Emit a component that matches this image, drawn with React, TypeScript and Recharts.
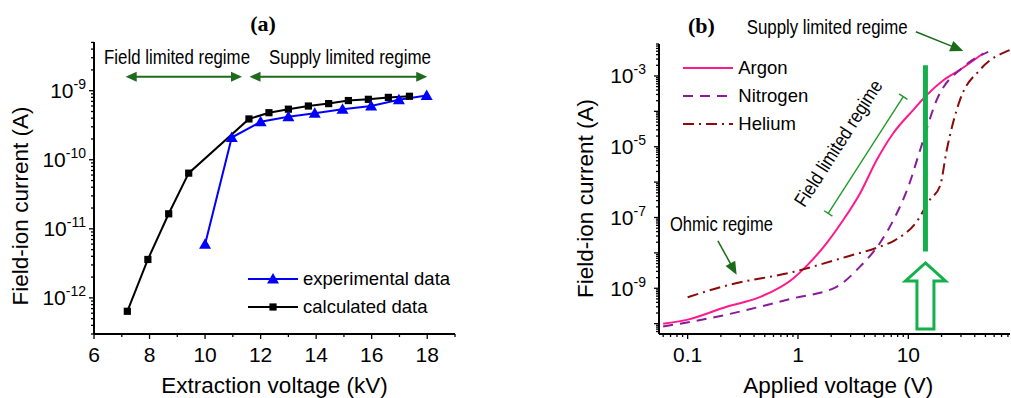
import React from "react";
import { LineChart, Line, XAxis, YAxis, ReferenceLine, ReferenceDot, Legend } from "recharts";

const SANS = "'Liberation Sans', Arial, Helvetica, sans-serif";
const SERIF = "'Liberation Serif', 'Times New Roman', serif";

// ---- panel (a): current vs extraction voltage ----
const calcKv = [7.2, 7.94, 8.69, 9.41, 11.58, 12.3, 13.0, 13.72, 14.45, 15.16, 15.88, 16.6, 17.36];
const calcCurrent = [6.4e-13, 3.6e-12, 1.65e-11, 6.4e-11, 3.9e-10, 4.8e-10, 5.4e-10, 6.0e-10, 6.5e-10, 7.2e-10, 7.5e-10, 8.0e-10, 8.3e-10];
const expKv = [10.0, 10.96, 12.0, 13.0, 13.95, 14.95, 15.98, 16.98, 17.98];
const expCurrent = [6.0e-12, 2.1e-10, 3.55e-10, 4.2e-10, 4.7e-10, 5.4e-10, 6.0e-10, 7.4e-10, 8.5e-10];
const kvTicks = [6, 7, 8, 9, 10, 11, 12, 13, 14, 15, 16, 17, 18, 19];
const kvLabels = [6, 8, 10, 12, 14, 16, 18];
const currentLabelsA = [1e-12, 1e-11, 1e-10, 1e-9];
const legendOrderA = ["experimental data", "calculated data"];

// regime arrows in (a)
const regimeArrowY = 1.59e-9;
const fieldRegimeKv = [7.14, 11.33];
const supplyRegimeKv = [11.6, 18.0];

// ---- panel (b): current vs applied voltage per gas ----
const argonV = [0.06, 0.1, 0.226, 0.45, 0.905, 1.2, 1.82, 2.57, 3.65, 5.17, 7.3, 11.1, 14.7, 20.8, 29.4, 47.9];
const argonI = [1.0e-10, 1.3e-10, 3.0e-10, 5.6e-10, 1.9e-9, 4.3e-9, 1.9e-8, 8.5e-8, 4.8e-7, 4.2e-6, 2.4e-5, 1.1e-4, 2.9e-4, 7.6e-4, 1.5e-3, 4.4e-3];
const nitrogenV = [0.06, 0.226, 0.45, 0.905, 2.24, 3.65, 5.53, 7.85, 10, 12.8, 18.1, 31.6, 53];
const nitrogenI = [8.3e-11, 1.8e-10, 3.0e-10, 5.2e-10, 1.1e-9, 4.1e-9, 1.9e-8, 1.3e-7, 7.4e-7, 8.1e-6, 2.1e-4, 1.8e-3, 4.8e-3];
const heliumV = [0.1, 0.226, 0.905, 2.76, 5.53, 7.6, 11.9, 15.7, 19.4, 22.3, 29.4, 44.7, 83];
const heliumI = [5.6e-10, 1.2e-9, 2.9e-9, 7.8e-9, 1.5e-8, 2.3e-8, 7.6e-8, 3.2e-7, 7.8e-7, 8.1e-6, 2.1e-4, 1.5e-3, 5.4e-3];
const voltLabels = [0.1, 1, 10];
const currentLabelsB = [1e-9, 1e-7, 1e-5, 1e-3];
const legendOrderB = ["Argon", "Nitrogen", "Helium"];

// annotations in (b)
const markerV = 14.3;
const markerBarI = [2.0e-3, 1.1e-8];
const markerArrowTipI = 5.2e-9;
const supplyArrow = [{ x: 11.7, y: 1.78e-2 }, { x: 31.5, y: 5.1e-3 }];
const ohmicArrow = [{ x: 0.188, y: 2.2e-8 }, { x: 0.278, y: 2.4e-9 }];
const fieldBracket = [{ x: 9.0, y: 2.6e-4 }, { x: 1.88, y: 1.3e-7 }];

const zip = (xs: number[], ys: number[]) => xs.map((v, k) => ({ v, i: ys[k] }));
const calcData = zip(calcKv, calcCurrent);
const expData = zip(expKv, expCurrent);
const argonData = zip(argonV, argonI);
const nitrogenData = zip(nitrogenV, nitrogenI);
const heliumData = zip(heliumV, heliumI);

const logTicks = (lo: number, hi: number) => {
  const out: number[] = [];
  for (let e = Math.floor(Math.log10(lo)); e <= Math.ceil(Math.log10(hi)); e++) {
    for (let m = 1; m <= 9; m++) {
      const v = Number((m * Math.pow(10, e)).toPrecision(6));
      if (v >= lo && v <= hi) out.push(v);
    }
  }
  return out;
};
const isDecade = (v: number) => Math.abs(Math.log10(v) - Math.round(Math.log10(v))) < 1e-6;
const sameLog = (a: number, b: number) => Math.abs(Math.log10(a) - Math.log10(b)) < 1e-6;
const ordered = (payload: any[] = [], order: string[]) =>
  [...payload].sort((a, b) => order.indexOf(a.value) - order.indexOf(b.value));

const domainA = { x: [6, 19], y: [3.0e-13, 5.07e-9] };
const domainB = { x: [0.055, 83.5], y: [5.1e-11, 8.0e-3] };

const PowerTick = ({ x, y, payload, labels, gap }: any) => {
  const v = payload.value;
  const show = labels.some((t: number) => sameLog(t, v));
  return (
    <g>
      <line x1={x - (isDecade(v) ? 5 : 3)} x2={x} y1={y} y2={y} stroke="#000" strokeWidth={1.3} />
      {show && (
        <text x={x - gap} y={y + 7.5} textAnchor="end" fontSize={21} fontFamily={SANS} fill="#000">
          10<tspan dy={-9} fontSize={14}>{Math.round(Math.log10(v))}</tspan>
        </text>
      )}
    </g>
  );
};

const BottomTick = ({ x, y, payload, major, labels }: any) => {
  const v = payload.value;
  const isMajor = major(v);
  const show = labels.some((t: number) => Math.abs(t - v) < 1e-9);
  return (
    <g>
      <line x1={x} x2={x} y1={y} y2={y + (isMajor ? 5 : 3)} stroke="#000" strokeWidth={1.3} />
      {show && (
        <text x={x} y={y + 28} textAnchor="middle" fontSize={21} fontFamily={SANS} fill="#000">
          {String(v)}
        </text>
      )}
    </g>
  );
};

const head = (x: number, y: number, ux: number, uy: number, len: number, half: number, color: string, k: string) => {
  const bx = x - ux * len;
  const by = y - uy * len;
  return (
    <polygon
      key={k}
      points={`${x},${y} ${bx - uy * half},${by + ux * half} ${bx + uy * half},${by - ux * half}`}
      fill={color}
    />
  );
};

const Arrow = ({ x1, y1, x2, y2, color, width, both, len = 11, half = 5 }: any) => {
  const dx = x2 - x1;
  const dy = y2 - y1;
  const d = Math.hypot(dx, dy) || 1;
  const ux = dx / d;
  const uy = dy / d;
  const sx = both ? x1 + ux * (len - 1) : x1;
  const sy = both ? y1 + uy * (len - 1) : y1;
  return (
    <g>
      <line x1={sx} y1={sy} x2={x2 - ux * (len - 1)} y2={y2 - uy * (len - 1)} stroke={color} strokeWidth={width} />
      {head(x2, y2, ux, uy, len, half, color, "e")}
      {both && head(x1, y1, -ux, -uy, len, half, color, "s")}
    </g>
  );
};

const Bracket = ({ x1, y1, x2, y2, color }: any) => {
  const d = Math.hypot(x2 - x1, y2 - y1) || 1;
  const px = (-(y2 - y1) / d) * 5;
  const py = ((x2 - x1) / d) * 5;
  return (
    <g stroke={color} strokeWidth={1.4}>
      <line x1={x1} y1={y1} x2={x2} y2={y2} />
      <line x1={x1 - px} y1={y1 - py} x2={x1 + px} y2={y1 + py} />
      <line x1={x2 - px} y1={y2 - py} x2={x2 + px} y2={y2 + py} />
    </g>
  );
};

const HollowArrow = ({ cx, cy }: any) => {
  const pts = [
    [0, 0], [20, 18], [8.5, 18], [8.5, 66], [-8.5, 66], [-8.5, 18], [-20, 18],
  ].map(([dx, dy]) => `${cx + dx},${cy + dy}`).join(" ");
  return <polygon points={pts} fill="#fff" stroke="#14b04c" strokeWidth={3} strokeLinejoin="miter" />;
};

const TriangleDot = (p: any) => {
  const { cx, cy, index } = p;
  if (cx == null || cy == null) return <g key={`t${index}`} />;
  return <polygon key={`t${index}`} points={`${cx},${cy - 6} ${cx + 6},${cy + 4.5} ${cx - 6},${cy + 4.5}`} fill="#0000ff" />;
};
const SquareDot = (p: any) => {
  const { cx, cy, index } = p;
  if (cx == null || cy == null) return <g key={`s${index}`} />;
  return <rect key={`s${index}`} x={cx - 3.6} y={cy - 3.6} width={7.2} height={7.2} fill="#000" />;
};

const legendMarkers: Record<string, string> = {
  "experimental data": "triangle",
  "calculated data": "square",
};

const LegendA = ({ payload }: any) => (
  <div style={{ fontFamily: SANS, fontSize: 18.5, color: "#000" }}>
    {ordered(payload, legendOrderA).map((e: any) => (
      <div key={e.value} style={{ display: "flex", alignItems: "center", height: 28.3 }}>
        <svg width={50} height={16} style={{ marginRight: 5 }}>
          <line x1={0} x2={50} y1={8} y2={8} stroke={e.color} strokeWidth={2} />
          {legendMarkers[e.value] === "triangle" ? (
            <polygon points="25,2 31,12.5 19,12.5" fill={e.color} />
          ) : (
            <rect x={21.4} y={4.4} width={7.2} height={7.2} fill={e.color} />
          )}
        </svg>
        <span style={{ lineHeight: "20px" }}>{e.value}</span>
      </div>
    ))}
  </div>
);

const LegendB = ({ payload }: any) => (
  <div style={{ fontFamily: SANS, fontSize: 18.5, color: "#000" }}>
    {ordered(payload, legendOrderB).map((e: any) => (
      <div key={e.value} style={{ display: "flex", alignItems: "center", height: 27.8 }}>
        <svg width={50.6} height={16} style={{ marginRight: 5 }}>
          <line
            x1={0}
            x2={50.6}
            y1={8}
            y2={8}
            stroke={e.color}
            strokeWidth={2}
            strokeDasharray={e.payload?.strokeDasharray}
          />
        </svg>
        <span style={{ lineHeight: "20px" }}>{e.value}</span>
      </div>
    ))}
  </div>
);

const axisLine = { stroke: "#000", strokeWidth: 2 };

function PanelA() {
  const yTicks = logTicks(domainA.y[0], domainA.y[1]);
  return (
    <LineChart width={470} height={398} margin={{ top: 42, right: 15, bottom: 0, left: 0 }}>
      <XAxis
        type="number"
        dataKey="v"
        domain={domainA.x}
        ticks={kvTicks}
        interval={0}
        allowDataOverflow
        height={64}
        tickSize={0}
        tickMargin={0}
        tickLine={false}
        axisLine={axisLine}
        tick={(p: any) => <BottomTick {...p} major={(v: number) => v % 2 === 0} labels={kvLabels} />}
      />
      <YAxis
        type="number"
        scale="log"
        domain={domainA.y}
        ticks={yTicks}
        interval={0}
        allowDataOverflow
        width={94}
        tickSize={0}
        tickMargin={0}
        tickLine={false}
        axisLine={axisLine}
        tick={(p: any) => <PowerTick {...p} labels={currentLabelsA} gap={8} />}
      />
      <Line data={calcData} dataKey="i" name="calculated data" stroke="#000" strokeWidth={2} dot={SquareDot} isAnimationActive={false} />
      <Line data={expData} dataKey="i" name="experimental data" stroke="#0000ff" strokeWidth={2} dot={TriangleDot} isAnimationActive={false} />
      <ReferenceLine
        segment={[{ x: fieldRegimeKv[0], y: regimeArrowY }, { x: fieldRegimeKv[1], y: regimeArrowY }]}
        ifOverflow="visible"
        shape={(p: any) => <Arrow {...p} color="#1e6b1e" width={2} both />}
      />
      <ReferenceLine
        segment={[{ x: supplyRegimeKv[0], y: regimeArrowY }, { x: supplyRegimeKv[1], y: regimeArrowY }]}
        ifOverflow="visible"
        shape={(p: any) => <Arrow {...p} color="#1e6b1e" width={2} both />}
      />
      <Legend
        layout="vertical"
        align="center"
        verticalAlign="middle"
        content={LegendA}
        wrapperStyle={{ position: "absolute", left: 248, top: 264.5, width: "auto" }}
      />
    </LineChart>
  );
}

function PanelB() {
  const yTicks = logTicks(domainB.y[0], domainB.y[1]);
  const xTicks = logTicks(domainB.x[0], domainB.x[1]);
  return (
    <LineChart width={451} height={398} margin={{ top: 44, right: 1, bottom: 0, left: 0 }}>
      <XAxis
        type="number"
        scale="log"
        dataKey="v"
        domain={domainB.x}
        ticks={xTicks}
        interval={0}
        allowDataOverflow
        height={64}
        tickSize={0}
        tickMargin={0}
        tickLine={false}
        axisLine={axisLine}
        tick={(p: any) => <BottomTick {...p} major={isDecade} labels={voltLabels} />}
      />
      <YAxis
        type="number"
        scale="log"
        domain={domainB.y}
        ticks={yTicks}
        interval={0}
        allowDataOverflow
        width={99}
        tickSize={0}
        tickMargin={0}
        tickLine={false}
        axisLine={axisLine}
        tick={(p: any) => <PowerTick {...p} labels={currentLabelsB} gap={13} />}
      />
      <Line data={argonData} dataKey="i" name="Argon" type="monotone" stroke="#ff1a8c" strokeWidth={2} dot={false} isAnimationActive={false} />
      <Line data={nitrogenData} dataKey="i" name="Nitrogen" type="monotone" stroke="#8b1a9b" strokeWidth={2} strokeDasharray="10 7" dot={false} isAnimationActive={false} />
      <Line data={heliumData} dataKey="i" name="Helium" type="monotone" stroke="#8b0a0a" strokeWidth={2} strokeDasharray="11 5 2 5" dot={false} isAnimationActive={false} />
      <ReferenceLine
        segment={[{ x: markerV, y: markerBarI[0] }, { x: markerV, y: markerBarI[1] }]}
        stroke="#14b04c"
        strokeWidth={5}
        ifOverflow="visible"
      />
      <ReferenceDot x={markerV} y={markerArrowTipI} ifOverflow="visible" shape={HollowArrow} />
      <ReferenceLine segment={supplyArrow} ifOverflow="visible" shape={(p: any) => <Arrow {...p} color="#1a6b1a" width={1.5} len={13} half={5.5} />} />
      <ReferenceLine segment={ohmicArrow} ifOverflow="visible" shape={(p: any) => <Arrow {...p} color="#1a6b1a" width={1.5} len={13} half={5.5} />} />
      <ReferenceLine segment={fieldBracket} ifOverflow="visible" shape={(p: any) => <Bracket {...p} color="#1f9a2a" />} />
      <Legend
        layout="vertical"
        align="center"
        verticalAlign="middle"
        content={LegendB}
        wrapperStyle={{ position: "absolute", left: 122.7, top: 54.4, width: "auto" }}
      />
    </LineChart>
  );
}

export default function App() {
  const note = { fontFamily: SANS, fontSize: 19.5, fill: "#000" } as const;
  const title = { fontFamily: SANS, fontSize: 22.5, fill: "#000" } as const;
  return (
    <div style={{ position: "absolute", left: 0, top: 0, width: 1011, height: 398, background: "#fff" }}>
      <div style={{ position: "absolute", left: 0, top: 0 }}>
        <PanelA />
      </div>
      <div style={{ position: "absolute", left: 560, top: 0 }}>
        <PanelB />
      </div>
      <svg width={1011} height={398} style={{ position: "absolute", left: 0, top: 0, pointerEvents: "none" }}>
        <text x={263} y={31} textAnchor="middle" fontFamily={SERIF} fontWeight="bold" fontSize={22}>(a)</text>
        <text x={701.5} y={33} textAnchor="middle" fontFamily={SERIF} fontWeight="bold" fontSize={22}>(b)</text>
        <text x={104} y={63.5} textLength={146} lengthAdjust="spacingAndGlyphs" {...note}>Field limited regime</text>
        <text x={269} y={64} textLength={162} lengthAdjust="spacingAndGlyphs" {...note}>Supply limited regime</text>
        <text x={746.7} y={34} textLength={161} lengthAdjust="spacingAndGlyphs" {...note}>Supply limited regime</text>
        <text x={670} y={230.5} textLength={103} lengthAdjust="spacingAndGlyphs" {...note}>Ohmic regime</text>
        <text
          x={838}
          y={143}
          dy={7}
          textAnchor="middle"
          textLength={146}
          lengthAdjust="spacingAndGlyphs"
          transform="rotate(-57.4 838 143)"
          {...note}
        >
          Field limited regime
        </text>
        <text x={28} y={206} textAnchor="middle" transform="rotate(-90 28 206)" {...title}>Field-ion current (A)</text>
        <text x={592.5} y={198.5} textAnchor="middle" transform="rotate(-90 592.5 198.5)" {...title}>Field-ion current (A)</text>
        <text x={274.5} y={393} textAnchor="middle" {...title}>Extraction voltage (kV)</text>
        <text x={838.3} y={393} textAnchor="middle" {...title}>Applied voltage (V)</text>
      </svg>
    </div>
  );
}
